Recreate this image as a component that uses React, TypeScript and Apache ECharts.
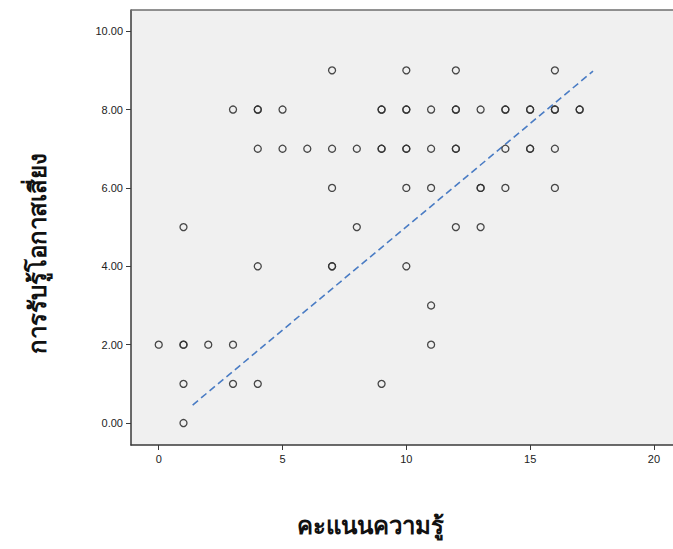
import React, { useEffect, useRef } from "react";
import * as echarts from "echarts";

// knowledge score (x) and risk perception (y); repeated pairs are overlapping cases
const knowledgeScores = [
  7, 10, 12, 16,
  3, 4, 4, 5, 9, 9, 10, 10, 11, 12, 12, 13, 14, 14, 15, 15, 16, 16, 17, 17,
  4, 5, 6, 7, 8, 9, 9, 10, 10, 11, 12, 12, 14, 15, 15, 16,
  7, 10, 11, 13, 13, 14, 16,
  1, 8, 12, 13,
  4, 7, 7, 10,
  11,
  0, 1, 1, 2, 3, 11,
  1, 3, 4, 9,
  1,
];
const riskPerception = [
  9, 9, 9, 9,
  8, 8, 8, 8, 8, 8, 8, 8, 8, 8, 8, 8, 8, 8, 8, 8, 8, 8, 8, 8,
  7, 7, 7, 7, 7, 7, 7, 7, 7, 7, 7, 7, 7, 7, 7, 7,
  6, 6, 6, 6, 6, 6, 6,
  5, 5, 5, 5,
  4, 4, 4, 4,
  3,
  2, 2, 2, 2, 2, 2,
  1, 1, 1, 1,
  0,
];
const fitLineX = [1.37, 17.54];
const fitLineY = [0.46, 8.98];
const yTicks = [0, 2, 4, 6, 8, 10];
const xTicks = [0, 5, 10, 15, 20];

export default function App() {
  const ref = useRef<HTMLDivElement>(null);
  useEffect(() => {
    if (!ref.current) return;
    const chart = echarts.init(ref.current, null, { renderer: "svg" });
    const points = knowledgeScores.map((x, i) => [x, riskPerception[i]]);
    const fit = fitLineX.map((x, i) => [x, fitLineY[i]]);
    const labelFont = "'Liberation Sans', Arial, sans-serif";
    chart.setOption({
      animation: false,
      backgroundColor: "#ffffff",
      grid: {
        left: 131,
        top: 10,
        right: 0,
        bottom: 104,
        show: true,
        backgroundColor: "#f0f0f0",
        borderWidth: 0,
      },
      xAxis: {
        type: "value",
        min: -1.12,
        max: 20.77,
        splitLine: { show: false },
        axisLine: { show: true, onZero: false, lineStyle: { color: "#3a3a3a", width: 1.5 } },
        axisTick: { show: true, customValues: xTicks, length: 5, lineStyle: { color: "#3a3a3a", width: 1 } },
        axisLabel: {
          customValues: xTicks,
          color: "#222",
          fontSize: 11,
          fontFamily: labelFont,
          margin: 8,
        },
      },
      yAxis: {
        type: "value",
        min: -0.56,
        max: 10.54,
        splitLine: { show: false },
        axisLine: { show: true, onZero: false, lineStyle: { color: "#3a3a3a", width: 1.5 } },
        axisTick: { show: true, customValues: yTicks, length: 5, lineStyle: { color: "#3a3a3a", width: 1 } },
        axisLabel: {
          customValues: yTicks,
          formatter: (v: number) => v.toFixed(2),
          color: "#222",
          fontSize: 11,
          fontFamily: labelFont,
          margin: 8,
        },
      },
      graphic: [
        {
          type: "line",
          shape: { x1: 131, y1: 10, x2: 673, y2: 10 },
          style: { stroke: "#6e6e6e", lineWidth: 1.5 },
          z: 10,
        },
        {
          type: "text",
          x: 370,
          y: 524,
          style: {
            text: "คะแนนความรู้",
            fontSize: 24,
            fontWeight: "bold",
            fontFamily: "'Noto Sans', sans-serif",
            fill: "#111",
            align: "center",
            verticalAlign: "middle",
          },
        },
        {
          type: "text",
          x: 36,
          y: 253,
          rotation: Math.PI / 2,
          style: {
            text: "การรับรู้โอกาสเสี่ยง",
            fontSize: 24,
            fontWeight: "bold",
            fontFamily: "'Noto Sans', sans-serif",
            fill: "#111",
            align: "center",
            verticalAlign: "middle",
          },
        },
      ],
      series: [
        {
          type: "scatter",
          data: points,
          symbol: "circle",
          symbolSize: 7,
          itemStyle: { color: "rgba(0,0,0,0)", borderColor: "#333", borderWidth: 1.3, opacity: 0.9 },
          z: 3,
        },
        {
          type: "line",
          data: fit,
          showSymbol: false,
          symbol: "none",
          lineStyle: { color: "#4a7cc4", width: 1.6, type: [7, 4] },
          z: 2,
        },
      ],
    });
    return () => chart.dispose();
  }, []);
  return (
    <div
      ref={ref}
      style={{ position: "fixed", left: 0, top: 0, width: 673, height: 549 }}
    />
  );
}
